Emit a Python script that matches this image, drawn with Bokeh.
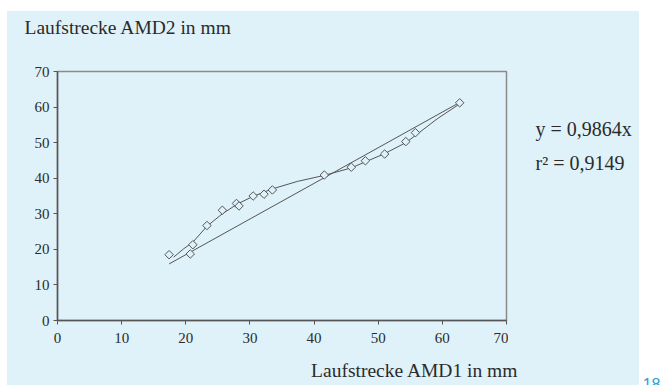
from bokeh.plotting import figure
from bokeh.models import Label, FixedTicker, Range1d, Spacer
from bokeh.layouts import row, column
from bokeh.embed import file_html
from bokeh.resources import INLINE
import numpy as np

# ---- data ----
amd1 = [17.4, 20.7, 21.1, 23.3, 25.7, 27.9, 28.3, 30.5, 32.2, 33.5, 41.6, 45.8, 48.0, 51.0, 54.3, 55.8, 62.7]
amd2 = [18.5, 18.7, 21.3, 26.7, 31.0, 32.9, 32.2, 35.0, 35.5, 36.7, 40.9, 43.1, 44.9, 46.8, 50.3, 52.8, 61.2]

# linear trend line end points
trend_x = [17.4, 62.7]
trend_y = [15.9, 61.3]

# smooth (polynomial) trend curve
curve_x = [18.1, 19.7, 21.1, 23.3, 25.7, 28.1, 30.5, 33.5, 37.4, 41.6, 45.8, 48.0, 51.0, 54.3, 55.8, 59.2, 62.7]
curve_y = [17.8, 20.2, 22.0, 26.5, 30.0, 32.8, 34.9, 37.0, 39.1, 40.8, 42.9, 44.6, 46.9, 50.0, 52.0, 56.7, 60.9]

ticks = [0, 10, 20, 30, 40, 50, 60, 70]
title_text = "Laufstrecke AMD2 in mm"
xlabel_text = "Laufstrecke AMD1 in mm"
eq_text = "y = 0,9864x"
r2_text = "r\u00b2 = 0,9149"
page_text = "18"

BG = "#dff2fa"
TXT = "#2b2b2b"
LINE = "#555555"
SERIF = "Liberation Serif"


def blank(w, h, bg=BG):
    # panel whose data coordinates are its own pixels (origin bottom-left)
    f = figure(width=w, height=h, output_backend="svg", toolbar_location=None,
               x_range=Range1d(0, w), y_range=Range1d(0, h), min_border=0,
               x_axis_type=None, y_axis_type=None, title=None)
    f.grid.visible = False
    f.outline_line_color = None
    f.background_fill_color = bg
    f.border_fill_color = bg
    return f


def lab(x, y, text, size="19.5px", align="left", font=SERIF, color=TXT):
    return Label(x=x, y=y, text=text,
                 text_font=font, text_font_size=size, text_color=color,
                 text_align=align, text_baseline="alphabetic")


# ---- main plot ----
MW, MH = 501, 296
p = figure(width=MW, height=MH, output_backend="svg", toolbar_location=None, title=None,
           x_range=Range1d(0, 70), y_range=Range1d(0, 70),
           min_border_left=50, min_border_right=2,
           min_border_top=12, min_border_bottom=35)
p.background_fill_color = BG
p.border_fill_color = BG
p.outline_line_color = "#8a8a8a"
p.outline_line_width = 1.5
p.grid.visible = False

for ax in (p.xaxis, p.yaxis):
    ax.ticker = FixedTicker(ticks=ticks)
    ax.minor_tick_line_color = None
    ax.axis_line_color = LINE
    ax.axis_line_width = 1.5
    ax.major_tick_line_color = LINE
    ax.major_tick_out = 4
    ax.major_tick_in = 0
    ax.major_label_text_font = SERIF
    ax.major_label_text_font_size = "15px"
    ax.major_label_text_color = TXT
p.xaxis.major_label_standoff = 8
p.yaxis.major_label_standoff = 4

p.line(trend_x, trend_y, line_color=LINE, line_width=1)
p.line(curve_x, curve_y, line_color=LINE, line_width=1)
p.scatter(amd1, amd2, marker="square", size=6, angle=np.pi / 4,
          line_color=LINE, line_width=1, fill_color=BG)

# ---- surrounding panels with texts ----
top = blank(632, 48)
top.add_layout(lab(17, 32, title_text))

right = blank(131, MH)
right.add_layout(lab(27, 228, eq_text, size="20px"))
right.add_layout(lab(27, 187, r2_text, size="20px"))

bottom = blank(632, 30)
bottom.add_layout(lab(511, 15, xlabel_text, align="right"))

page = blank(23, 385, bg="white")
page.add_layout(lab(21, 2, page_text, size="16px", align="right",
                    font="Liberation Sans", color="#2a9fd8"))

panel = column(top, row(p, right, styles={"background-color": BG}), bottom,
               styles={"background-color": BG})
layout = row(Spacer(width=7, height=385),
             column(Spacer(width=632, height=11), panel),
             page)
open("out.html", "w").write(file_html(layout, INLINE))
